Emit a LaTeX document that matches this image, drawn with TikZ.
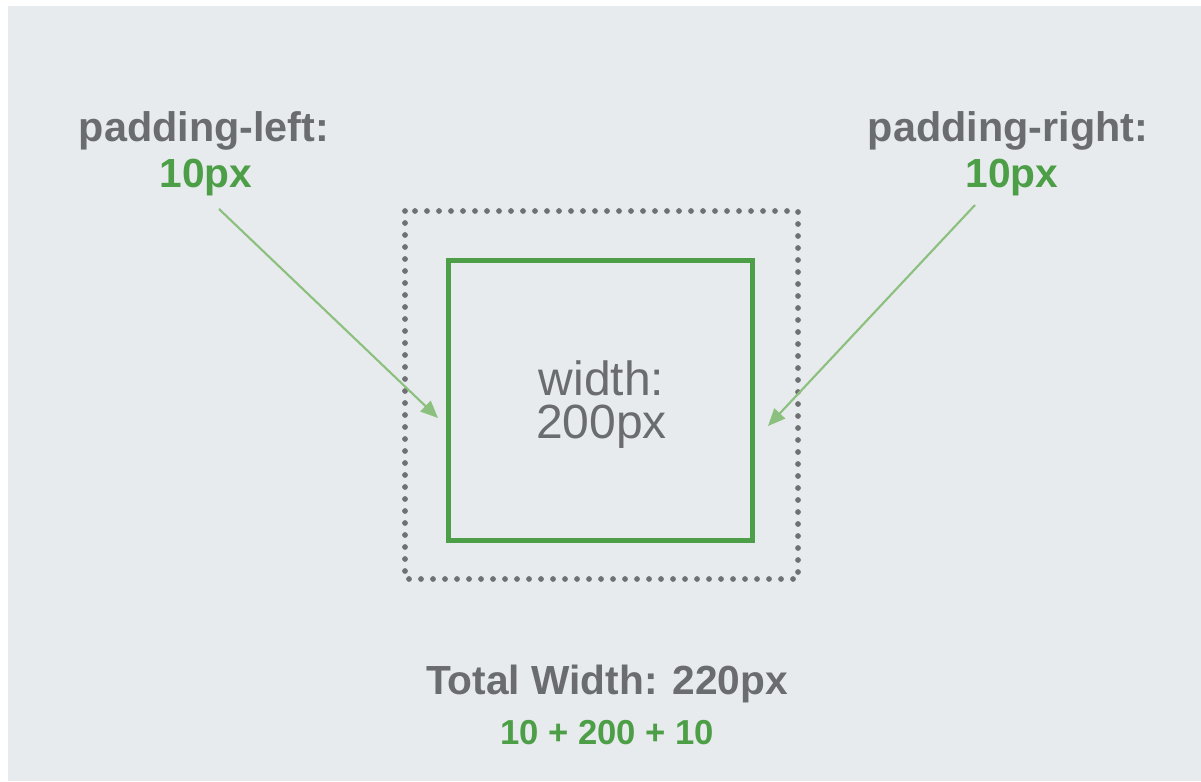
\documentclass[tikz,border=0pt]{standalone}
\usepackage{fontspec}
\setmainfont{Liberation Sans}
\usetikzlibrary{arrows.meta}
\definecolor{bg}{HTML}{E8EBED}
\definecolor{txtgray}{HTML}{6A6C6F}
\definecolor{grn}{HTML}{4C9E47}
\definecolor{arrgrn}{HTML}{8CC07F}
\definecolor{dotgray}{HTML}{6E7073}
\tikzset{
  lbl/.style={inner sep=0pt, text=txtgray, font=\bfseries\fontsize{31}{36}\selectfont},
  val/.style={inner sep=0pt, text=grn, font=\bfseries\fontsize{30.5}{36}\selectfont},
  wid/.style={inner sep=0pt, align=center, text=txtgray, font=\fontsize{36}{32.25}\selectfont},
  ptr/.style={draw=arrgrn, line width=1.6pt, -{Triangle[length=13pt,width=11pt,fill=arrgrn]}},
}
\begin{document}
\begin{tikzpicture}[x=0.75pt,y=-0.75pt]
\useasboundingbox (0,0) rectangle (1201,781);
\fill[white] (0,0) rectangle (1201,781);
\fill[bg] (8,6) rectangle (1201,781);
% boxes
\draw[dotgray, line width=4.3pt, dash pattern=on 0pt off 9pt, line cap=round] (405,211) rectangle (798,579);
\node[draw=grn, line width=3.6pt, minimum width=228pt, minimum height=210pt, inner sep=0pt] (content) at (600.5,400.5) {};
\node[wid] (w) at (601.5,404.5) {width:\\200px};
% labels
\node[lbl] (pl) at (204,131) {padding-left:};
\node[val] (plv) at (206,178) {10px};
\node[lbl] (pr) at (1008,131) {padding-right:};
\node[val] (prv) at (1012,178) {10px};
\coordinate (lstart) at (219,209);
\coordinate (ltip) at (438,418);
\coordinate (rstart) at (975,205);
\coordinate (rtip) at (768,426);
\draw[ptr] (lstart) -- (ltip);
\draw[ptr] (rstart) -- (rtip);
% total
\node[lbl, font=\bfseries\fontsize{30.5}{36}\selectfont] (tot) at (607,684) {Total Width: 220px};
\node[val, font=\bfseries\fontsize{26}{30}\selectfont] (sum) at (607,733) {10 + 200 + 10};
\end{tikzpicture}
\end{document}
